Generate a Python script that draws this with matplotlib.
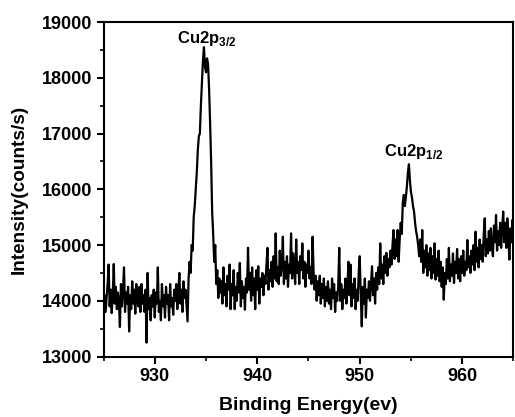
import numpy as np
import matplotlib
matplotlib.use("Agg")
import matplotlib.pyplot as plt
from matplotlib.ticker import MultipleLocator

plt.rcParams['font.family'] = ['Liberation Sans', 'DejaVu Sans']
plt.rcParams['font.weight'] = 'bold'
plt.rcParams['mathtext.fontset'] = 'custom'
plt.rcParams['mathtext.rm'] = 'Liberation Sans:bold'
plt.rcParams['mathtext.bf'] = 'Liberation Sans:bold'

energy_start = 925.0
energy_step = 0.1
intensity = [
    13950, 14100, 13800, 14050, 14300, 14650, 13900, 14200, 13780, 14100,
    14660, 13950, 14250, 13850, 14150, 14000, 13530, 14300, 13900, 14200,
    14600, 13800, 14150, 13950, 14250, 13450, 14100, 13850, 14350, 13950,
    14200, 13770, 14300, 14000, 13900, 14250, 13800, 14300, 13950, 14100,
    13800, 14200, 13250, 14500, 13850, 14050, 13650, 14100, 13900, 14200,
    13700, 14150, 13950, 14600, 13800, 14000, 13650, 14300, 13900, 14100,
    13700, 14250, 13950, 14100, 13650, 14300, 13900, 14050, 13750, 14200,
    14000, 14300, 13850, 14150, 14500, 13950, 14200, 13800, 14350, 14050,
    14200, 13900, 13630, 14400, 14700, 14500, 15000, 14900, 15500, 15700,
    16000, 16300, 16700, 16950, 17000, 17500, 17900, 18300, 18550, 18200,
    18100, 18350, 18250, 17800, 17200, 16500, 15600, 15200, 14700, 15000,
    14300, 14550, 14050, 14400, 14150, 14350, 13950, 14600, 14100, 14300,
    13900, 14450, 14200, 14650, 13850, 14300, 14100, 14550, 13850, 14250,
    14000, 14500, 14150, 14680, 13900, 14350, 14050, 14250, 13840, 14400,
    14150, 14950, 14200, 14500, 14000, 14600, 14100, 14400, 13850, 14550,
    14200, 14620, 13950, 14400, 14250, 14500, 14100, 14450, 14300, 14650,
    14950, 14200, 14550, 14350, 14700, 14250, 14800, 14400, 15210, 14350,
    14600, 14300, 14900, 14450, 14650, 15150, 14300, 14700, 14400, 14800,
    14250, 14650, 14500, 15210, 14400, 14850, 14600, 14300, 15100, 14500,
    14700, 14300, 14800, 14550, 15030, 14400, 14700, 14250, 14650, 14500,
    14900, 14400, 14600, 14300, 15150, 14500, 14200, 14450, 14000, 14350,
    14100, 14450, 13950, 14300, 14050, 14400, 13900, 14250, 14000, 14350,
    13950, 14200, 13850, 14400, 14050, 14300, 13800, 14150, 14000, 14250,
    14950, 14000, 14300, 13850, 14200, 14050, 14400, 13950, 14250, 14700,
    14100, 14650, 13900, 14300, 14050, 14400, 13850, 14200, 14000, 14500,
    14800, 14100, 13540, 14250, 13950, 14400, 13700, 14200, 14050, 14350,
    14000, 14300, 14620, 14100, 14400, 13950, 14500, 14200, 14600, 14300,
    15030, 14400, 14650, 14300, 14800, 14500, 14860, 14450, 14750, 14600,
    14900, 14650, 15000, 15270, 14750, 15100, 14800, 15270, 14700, 15100,
    15400, 15200, 15750, 15900, 15700, 15850, 16050, 16300, 16450, 16150,
    15950, 15850, 15700, 15600, 15400, 15250, 15150, 15000, 14800, 15100,
    14700, 15270, 14500, 14900, 14600, 15000, 14450, 14850, 14550, 14950,
    14400, 14800, 14500, 15030, 14380, 14750, 14450, 14900, 14350, 14700,
    14250, 14600, 14020, 14500, 14300, 14750, 14400, 14950, 14350, 14650,
    14450, 14850, 14320, 14700, 14500, 14930, 14400, 14750, 14350, 14800,
    14500, 14900, 14450, 14700, 14550, 15090, 14600, 14800, 14500, 14900,
    14650, 15000, 14550, 15240, 14700, 14950, 14600, 15100, 14750, 15000,
    14700, 15200, 15480, 14800, 15100, 14850, 15250, 14900, 15300, 14950,
    14800, 15350, 15050, 15540, 14900, 15250, 15000, 15400, 14950, 15300,
    15600, 15050, 15400, 14950, 15480, 15150, 14740, 15300, 15050, 15450,
    15200,
]
energy = energy_start + energy_step * np.arange(len(intensity))

x_ticks = [930, 940, 950, 960]
y_ticks = [13000, 14000, 15000, 16000, 17000, 18000, 19000]
x_label = "Binding Energy(ev)"
y_label = "Intensity(counts/s)"
peak_labels = [r"Cu2p$_{\mathbf{3/2}}$", r"Cu2p$_{\mathbf{1/2}}$"]
peak_label_pos = [(935.1, 18620), (955.3, 16600)]

fig = plt.figure(figsize=(5.15, 4.17), dpi=100)
ax = fig.add_axes([0.201, 0.145, 0.796, 0.802])
ax.plot(energy, intensity, color='black', linewidth=1.6)

ax.set_xlim(925, 965)
ax.set_ylim(13000, 19000)
ax.set_xticks(x_ticks)
ax.set_yticks(y_ticks)
ax.xaxis.set_minor_locator(MultipleLocator(5))
ax.yaxis.set_minor_locator(MultipleLocator(500))
ax.tick_params(axis='both', which='major', direction='out', length=5, width=1.5,
               labelsize=13, pad=3)
ax.tick_params(axis='both', which='minor', direction='out', length=3, width=1.2)
ax.tick_params(top=False, right=False, which='both')
for lab in ax.get_xticklabels() + ax.get_yticklabels():
    lab.set_fontweight('bold')
for sp in ax.spines.values():
    sp.set_linewidth(1.5)

ax.set_xlabel(x_label, fontsize=14, fontweight='bold', labelpad=9)
ax.set_ylabel(y_label, fontsize=13.7, fontweight='bold', labelpad=10)

for text, (xx, yy) in zip(peak_labels, peak_label_pos):
    ax.text(xx, yy, text, fontsize=12, fontweight='bold', ha='center', va='baseline')

fig.savefig("out.png", dpi=100)
